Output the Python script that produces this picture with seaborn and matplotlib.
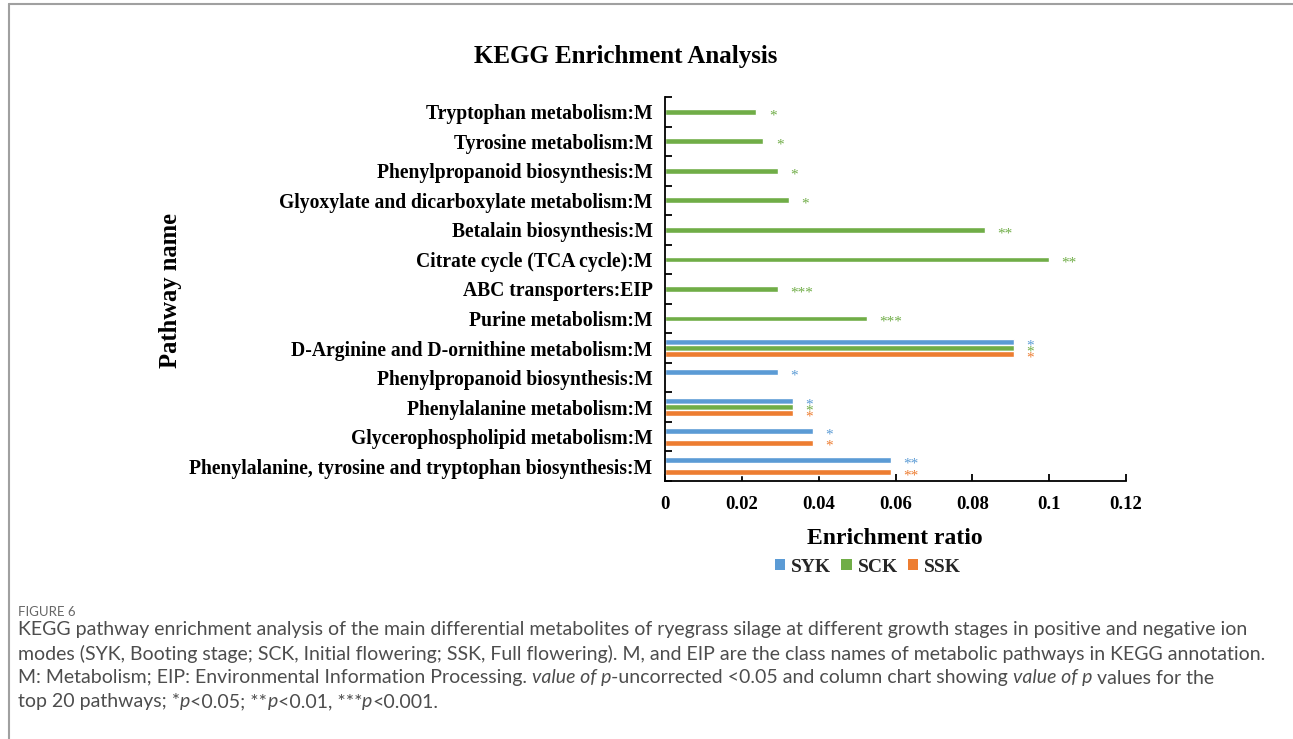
import numpy as np
import pandas as pd
import matplotlib
matplotlib.use("Agg")
import matplotlib.pyplot as plt
from matplotlib.patches import Patch
from matplotlib.lines import Line2D
import seaborn as sns

# Pathways, top to bottom
pathways = [
    "Tryptophan metabolism:M",
    "Tyrosine metabolism:M",
    "Phenylpropanoid biosynthesis:M",
    "Glyoxylate and dicarboxylate metabolism:M",
    "Betalain biosynthesis:M",
    "Citrate cycle (TCA cycle):M",
    "ABC transporters:EIP",
    "Purine metabolism:M",
    "D-Arginine and D-ornithine metabolism:M",
    "Phenylpropanoid biosynthesis:M",
    "Phenylalanine metabolism:M",
    "Glycerophospholipid metabolism:M",
    "Phenylalanine, tyrosine and tryptophan biosynthesis:M",
]
groups = ["SYK", "SCK", "SSK"]

# Enrichment ratios per group (None = pathway not enriched in that group)
syk = [None, None, None, None, None, None, None, None, 0.0909, 0.0294, 0.0333, 0.0385, 0.0588]
sck = [0.0238, 0.0256, 0.0294, 0.0323, 0.0833, 0.1000, 0.0294, 0.0526, 0.0909, None, 0.0333, None, None]
ssk = [None, None, None, None, None, None, None, None, 0.0909, None, 0.0333, 0.0385, 0.0588]

# Significance marks per group
syk_sig = [None, None, None, None, None, None, None, None, "*", "*", "*", "*", "**"]
sck_sig = ["*", "*", "*", "*", "**", "**", "***", "***", "*", None, "*", None, None]
ssk_sig = [None, None, None, None, None, None, None, None, "*", None, "*", "*", "**"]

palette = {"SYK": "#5B9BD5", "SCK": "#70AD47", "SSK": "#ED7D31"}

rows = []
for g, vals, sigs in zip(groups, [syk, sck, ssk], [syk_sig, sck_sig, ssk_sig]):
    for i, (v, s) in enumerate(zip(vals, sigs)):
        if v is not None:
            rows.append({"row": str(i), "group": g, "ratio": v, "sig": s})
df = pd.DataFrame(rows)
row_order = [str(i) for i in range(len(pathways))]

sns.set_theme(style="white")
serif = ["Liberation Serif", "DejaVu Serif"]
plt.rcParams["font.family"] = serif

W, H = 1293, 739
fig = plt.figure(figsize=(W / 100, H / 100), dpi=100)
ax = fig.add_axes([665 / W, 1 - 481 / H, (1126 - 665) / W, (481 - 97) / H])

sns.barplot(data=df, y="row", x="ratio", hue="group", order=row_order,
            hue_order=groups, palette=palette, orient="h", width=0.6,
            saturation=1, errorbar=None, legend=False, ax=ax)

# significance asterisks next to each bar
for gi, cont in enumerate(ax.containers):
    g = groups[gi]
    sub = df[df["group"] == g]
    lookup = {int(r): s for r, s in zip(sub["row"], sub["sig"])}
    for bar in cont:
        w = bar.get_width()
        if not np.isfinite(w) or w == 0:
            continue
        yc = bar.get_y() + bar.get_height() / 2
        s = lookup.get(int(round(yc)))
        if s:
            ax.annotate(s, xy=(w, yc), xytext=(9, -2.8), textcoords="offset points",
                        ha="left", va="center", color=palette[g], fontsize=11)

ax.set_xlim(0, 0.12)
ax.set_ylim(len(pathways) - 0.5, -0.5)
ax.set_xticks(np.arange(0, 0.121, 0.02))
ax.set_xticklabels(["0", "0.02", "0.04", "0.06", "0.08", "0.1", "0.12"])
ax.set_yticks(range(len(pathways)))
ax.set_yticklabels(pathways)
ax.set_yticks(np.arange(-0.5, len(pathways), 1), minor=True)
ax.set_xlabel("")
ax.set_ylabel("")

for side in ["top", "right"]:
    ax.spines[side].set_visible(False)
for side in ["left", "bottom"]:
    ax.spines[side].set_color("black")
    ax.spines[side].set_linewidth(1.3)

ax.tick_params(axis="y", which="major", length=0, pad=9, labelsize=14.1)
ax.tick_params(axis="y", which="minor", direction="in", length=5, width=1.3, color="black", left=True)
ax.tick_params(axis="x", which="major", direction="in", length=5, width=1.3, color="black",
               bottom=True, pad=11, labelsize=13.5)
for lab in ax.get_yticklabels() + ax.get_xticklabels():
    lab.set_fontweight("bold")
    lab.set_color("black")

fig.text(626 / W, 1 - 56 / H, "KEGG Enrichment Analysis", ha="center", va="center",
         fontsize=18, fontweight="bold", color="black")
fig.text(170 / W, 1 - 290 / H, "Pathway name", ha="center", va="center", rotation=90,
         fontsize=17.7, fontweight="bold", color="black")
fig.text(895 / W, 1 - 538 / H, "Enrichment ratio", ha="center", va="center",
         fontsize=17, fontweight="bold", color="black")

handles = [Patch(facecolor=palette[g], edgecolor="none", label=g) for g in groups]
leg = fig.legend(handles=handles, loc="center", bbox_to_anchor=(868 / W, 1 - 567 / H),
                 ncol=3, frameon=False, handlelength=0.55, handleheight=0.55,
                 handletextpad=0.3, columnspacing=0.5,
                 prop={"family": serif, "weight": "bold", "size": 14})

# frame lines of the panel
fig.add_artist(Line2D([9 / W, 1], [1 - 4 / H, 1 - 4 / H], transform=fig.transFigure,
                      color="#a0a0a0", lw=1.5))
fig.add_artist(Line2D([9 / W, 9 / W], [0, 1 - 4 / H], transform=fig.transFigure,
                      color="#a0a0a0", lw=1.5))

# caption with mixed upright / italic runs
cap_font = ["Lato", "DejaVu Sans"]
cap_color = "#4d4d4d"
fig.text(18 / W, 1 - 612 / H, "FIGURE 6", ha="left", va="center", fontsize=9.5,
         family=cap_font, color="#666666")

caption = [
    [("KEGG pathway enrichment analysis of the main differential metabolites of ryegrass silage at different growth stages in positive and negative ion", "normal")],
    [("modes (SYK, Booting stage; SCK, Initial flowering; SSK, Full flowering). M, and EIP are the class names of metabolic pathways in KEGG annotation.", "normal")],
    [("M: Metabolism; EIP: Environmental Information Processing. ", "normal"), ("value of p", "italic"),
     ("-uncorrected <0.05 and column chart showing ", "normal"), ("value of p", "italic"),
     (" values for the", "normal")],
    [("top 20 pathways; *", "normal"), ("p", "italic"), ("<0.05; **", "normal"), ("p", "italic"),
     ("<0.01, ***", "normal"), ("p", "italic"), ("<0.001.", "normal")],
]
line_y = [630, 654, 678, 702]
renderer = fig.canvas.get_renderer()
for parts, yy in zip(caption, line_y):
    x = 18 / W
    for txt, style in parts:
        t = fig.text(x, 1 - yy / H, txt, ha="left", va="center", fontsize=14.05,
                     family=cap_font, style=style, color=cap_color)
        bb = t.get_window_extent(renderer=renderer)
        x = bb.x1 / W

fig.savefig("out.png", dpi=100)
